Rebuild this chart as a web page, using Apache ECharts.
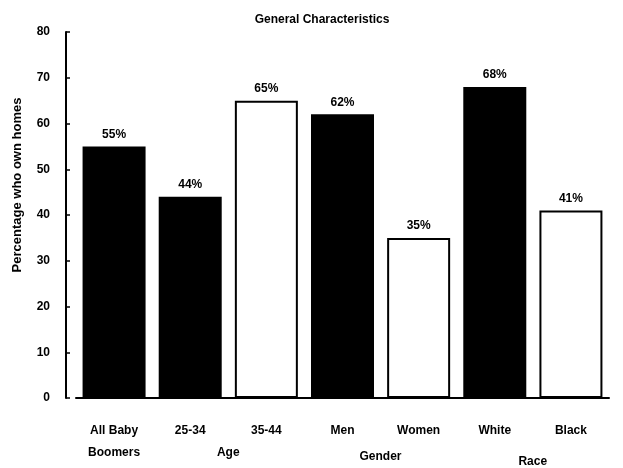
<!DOCTYPE html>
<html>
<head>
<meta charset="utf-8">
<script src="https://cdn.jsdelivr.net/npm/echarts@6/dist/echarts.min.js"></script>
<style>
html,body{margin:0;padding:0;background:#fff;}
#chart{width:623px;height:468px;}
</style>
</head>
<body>
<div id="chart"></div>
<script>
const categories = ['All Baby\nBoomers', '25-34', '35-44', 'Men', 'Women', 'White', 'Black'];
const groupLabels = ['', 'Age', '', 'Gender', '', 'Race', ''];
const values = [55, 44, 65, 62, 35, 68, 41];
const dark = [true, true, false, true, false, true, false];
const yTicks = [0, 10, 20, 30, 40, 50, 60, 70, 80];

const FONT = 'Liberation Sans';
const chart = echarts.init(document.getElementById('chart'));

const barData = values.map((v, i) => ({
  value: v,
  itemStyle: dark[i]
    ? { color: '#000', borderColor: '#000', borderWidth: 0 }
    : { color: '#fff', borderColor: '#000', borderWidth: 2 }
}));

const groupPad = { Age: 0, Gender: 4, Race: 9 };

chart.setOption({
  animation: false,
  backgroundColor: '#fff',
  title: {
    text: 'General Characteristics',
    left: 317, top: 9, textAlign: 'center',
    textStyle: { fontFamily: FONT, fontWeight: 'bold', fontSize: 12, color: '#000' }
  },
  grid: { left: 76, right: 14, top: 32, bottom: 62 },
  xAxis: [{
    type: 'category',
    data: categories,
    axisLine: { lineStyle: { color: '#000', width: 2 } },
    axisTick: { show: false },
    axisLabel: {
      interval: 0, margin: 22, color: '#000',
      fontFamily: FONT, fontWeight: 'bold', fontSize: 12, lineHeight: 22
    }
  }, {
    type: 'category',
    data: groupLabels,
    position: 'bottom',
    axisLine: { show: false },
    axisTick: { show: false },
    axisLabel: {
      interval: 0, margin: 49,
      formatter: function (v) { return v ? '{' + v + '|' + v + '}' : ''; },
      rich: {
        Age: { padding: [groupPad.Age, 0, 0, 76], fontFamily: FONT, fontWeight: 'bold', fontSize: 12, color: '#000' },
        Gender: { padding: [groupPad.Gender, 0, 0, 76], fontFamily: FONT, fontWeight: 'bold', fontSize: 12, color: '#000' },
        Race: { padding: [groupPad.Race, 0, 0, 76], fontFamily: FONT, fontWeight: 'bold', fontSize: 12, color: '#000' }
      }
    }
  }],
  yAxis: {
    type: 'value',
    min: yTicks[0], max: yTicks[yTicks.length - 1], interval: 10,
    offset: 10,
    name: 'Percentage who own homes',
    nameLocation: 'middle',
    nameGap: 42,
    nameTextStyle: { fontFamily: FONT, fontWeight: 'bold', fontSize: 13, color: '#000', padding: [0, 0, 0, 60] },
    axisLine: { show: true, lineStyle: { color: '#000', width: 2 } },
    axisTick: { show: true, inside: true, length: 4, lineStyle: { color: '#000', width: 1.5 } },
    splitLine: { show: false },
    axisLabel: { margin: 16, color: '#000', fontFamily: FONT, fontWeight: 'bold', fontSize: 12 }
  },
  series: [{
    type: 'bar',
    xAxisIndex: 0,
    data: barData,
    barWidth: 63,
    label: {
      show: true, position: 'top', distance: 6,
      formatter: '{c}%',
      fontFamily: FONT, fontWeight: 'bold', fontSize: 12, color: '#000'
    }
  }]
});
</script>
</body>
</html>
